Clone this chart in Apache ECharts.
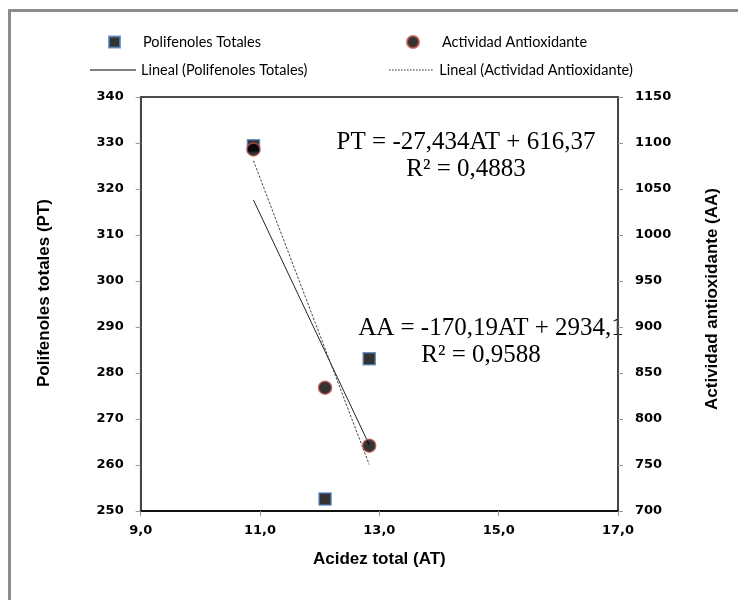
<!DOCTYPE html>
<html>
<head>
<meta charset="utf-8">
<script src="https://cdn.jsdelivr.net/npm/echarts@6/dist/echarts.min.js"></script>
<style>html,body{margin:0;padding:0;background:#fff}#c{width:738px;height:600px}</style>
</head>
<body>
<div id="c"></div>
<script>
// ---- data ----
const acidezPT = [10.89, 12.09, 12.83];
const polifenoles = [329.4, 252.6, 283.1];
const acidezAA = [10.89, 12.09, 12.83];
const actividad = [1093, 834, 771];
const trendX = [10.89, 12.83];
const trendPT = [317.6, 264.4];
const trendAA = [1080.8, 750.5];
const xTickLabels = ['9,0', '11,0', '13,0', '15,0', '17,0'];
const yLeftTickLabels = ['250','260','270','280','290','300','310','320','330','340'];
const yRightTickLabels = ['700','750','800','850','900','950','1000','1050','1100','1150'];
const seriesNames = ['Polifenoles Totales', 'Actividad Antioxidante', 'Lineal (Polifenoles Totales)', 'Lineal (Actividad Antioxidante)'];
const eqPT = ['PT = -27,434AT + 616,37', 'R² = 0,4883'];
const eqAA = ['AA = -170,19AT + 2934,1', 'R² = 0,9588'];

const zip = (a, b) => a.map((v, i) => [v, b[i]]);

let dots = '';
for (let i = 0; i < 15; i++) dots += 'M' + (i * 3) + ',0h1.6v1h-1.6z';

const tickFont = { fontFamily: 'DejaVu Sans', fontWeight: 'bold', fontSize: 13, color: '#000' };
const nameFont = { fontFamily: 'Liberation Sans', fontWeight: 'bold', fontSize: 17, color: '#000' };
const legFont = { fontFamily: 'Lato', fontSize: 14.5, color: '#000', lineHeight: 16 };
const eqFont = '25px "Liberation Serif"';

const chart = echarts.init(document.getElementById('c'), null, { renderer: 'canvas' });
chart.setOption({
  animation: false,
  grid: { left: 140.7, right: 120, top: 97, bottom: 89, show: true, borderColor: '#111', borderWidth: 1.5 },
  xAxis: {
    type: 'value', min: 9, max: 17, interval: 2,
    name: 'Acidez total (AT)', nameLocation: 'middle', nameGap: 40, nameTextStyle: nameFont,
    axisLine: { show: true, onZero: false, lineStyle: { color: '#111', width: 2 } },
    axisTick: { show: true, inside: false, length: 5, lineStyle: { color: '#999' } },
    axisLabel: Object.assign({ margin: 13, formatter: v => xTickLabels[Math.round((v - 9) / 2)] }, tickFont),
    splitLine: { show: false }
  },
  yAxis: [{
    type: 'value', min: 250, max: 340, interval: 10, position: 'left',
    name: 'Polifenoles totales (PT)', nameLocation: 'middle', nameGap: 88,
    nameTextStyle: Object.assign({ padding: [0, 0, 0, 22] }, nameFont),
    axisLine: { show: true, onZero: false, lineStyle: { color: '#444', width: 2 } },
    axisTick: { show: true, inside: false, length: 5, lineStyle: { color: '#999' } },
    axisLabel: Object.assign({ margin: 17, formatter: v => yLeftTickLabels[Math.round((v - 250) / 10)] }, tickFont),
    splitLine: { show: false }
  }, {
    type: 'value', min: 700, max: 1150, interval: 50, position: 'right',
    name: 'Actividad antioxidante (AA)', nameLocation: 'middle', nameGap: 86,
    nameTextStyle: Object.assign({ padding: [0, 0, 0, 10] }, nameFont),
    axisLine: { show: true, onZero: false, lineStyle: { color: '#444', width: 2 } },
    axisTick: { show: true, inside: false, length: 5, lineStyle: { color: '#999' } },
    axisLabel: Object.assign({ margin: 17, formatter: v => yRightTickLabels[Math.round((v - 700) / 50)] }, tickFont),
    splitLine: { show: false }
  }],
  legend: [
    { data: [seriesNames[0]], left: 108, top: 34, padding: 0, icon: 'rect', itemWidth: 11, itemHeight: 11,
      textStyle: Object.assign({ padding: [0, 0, 0, 18] }, legFont), selectedMode: false },
    { data: [seriesNames[1]], left: 406, top: 34, padding: 0, icon: 'circle', itemWidth: 12, itemHeight: 12,
      textStyle: Object.assign({ padding: [0, 0, 0, 18] }, legFont), selectedMode: false },
    { data: [seriesNames[2]], left: 90, top: 62, padding: 0, icon: 'path://M0,0h46v1h-46z', itemWidth: 46, itemHeight: 1,
      textStyle: Object.assign({ padding: [0, 0, 0, 0] }, legFont), selectedMode: false },
    { data: [seriesNames[3]], left: 389, top: 62, padding: 0, icon: 'path://' + dots, itemWidth: 45, itemHeight: 1,
      textStyle: Object.assign({ padding: [0, 0, 0, 1] }, legFont), selectedMode: false }
  ],
  series: [
    { name: seriesNames[2], type: 'line', yAxisIndex: 0, data: zip(trendX, trendPT), symbol: 'none',
      itemStyle: { color: '#000' }, lineStyle: { color: '#222', width: 1 }, z: 2 },
    { name: seriesNames[3], type: 'line', yAxisIndex: 1, data: zip(trendX, trendAA), symbol: 'none',
      itemStyle: { color: '#333' }, lineStyle: { color: '#444', width: 1, type: [2.5, 1.5] }, z: 2 },
    { name: seriesNames[0], type: 'scatter', yAxisIndex: 0, data: zip(acidezPT, polifenoles), symbol: 'rect', symbolSize: 12,
      itemStyle: { color: '#000', borderColor: '#4f81bd', borderWidth: 1.5 }, z: 3 },
    { name: seriesNames[1], type: 'scatter', yAxisIndex: 1, data: zip(acidezAA, actividad), symbol: 'circle', symbolSize: 13,
      itemStyle: { color: '#000', borderColor: '#c0504d', borderWidth: 1.5 }, z: 4 }
  ],
  graphic: [
    { type: 'polyline', shape: { points: [[9.5, 600], [9.5, 10.5], [738, 10.5]] }, style: { stroke: '#8c8c8c', lineWidth: 3, fill: null }, silent: true },
    { type: 'text', x: 466, y: 142, style: { text: eqPT[0], font: eqFont, fill: '#000', align: 'center', verticalAlign: 'middle' } },
    { type: 'text', x: 466, y: 169, style: { text: eqPT[1], font: eqFont, fill: '#000', align: 'center', verticalAlign: 'middle' } },
    { type: 'text', x: 491, y: 328, style: { text: eqAA[0], font: eqFont, fill: '#000', align: 'center', verticalAlign: 'middle' } },
    { type: 'text', x: 481, y: 355, style: { text: eqAA[1], font: eqFont, fill: '#000', align: 'center', verticalAlign: 'middle' } }
  ]
});
</script>
</body>
</html>
